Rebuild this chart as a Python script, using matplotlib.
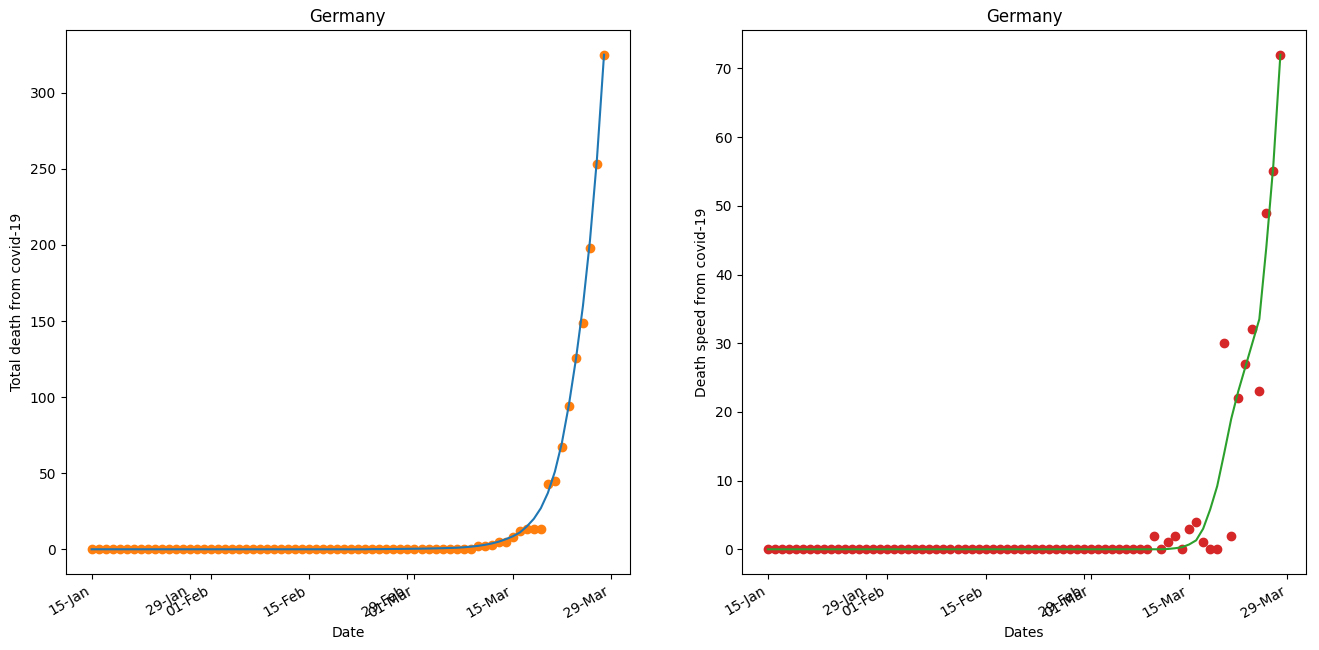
import matplotlib
matplotlib.use("Agg")
import matplotlib.pyplot as plt
import matplotlib.dates as mdates
import numpy as np
import pandas as pd

# ---- data (Germany, from 15-Jan-2020, one value per day) ----
start_date = "2020-01-15"
n_days = 74

total_deaths = [0] * 55 + [2, 2, 3, 5, 5, 8, 12, 13, 13, 13,
                           43, 45, 67, 94, 126, 149, 198, 253, 325]

total_fit = ([0.0] * 40 +
             [0.1, 0.1, 0.15, 0.2, 0.25, 0.3, 0.35, 0.4, 0.5, 0.6,
              0.7, 0.85, 1.0, 1.3, 1.7, 2.2, 2.9, 3.8, 5.0, 6.6,
              8.5, 11, 15, 20, 27, 37, 51, 70, 95, 125,
              160, 203, 257, 325])

daily_deaths = [0] * 55 + [2, 0, 1, 2, 0, 3, 4, 1, 0, 0,
                           30, 2, 22, 27, 32, 23, 49, 55, 72]

daily_fit = ([0.0] * 57 +
             [0.05, 0.15, 0.3, 0.7, 1.3, 3.0, 5.8, 9.2, 14, 19,
              23, 26.5, 30, 33.5, 44, 56, 72])

country = "Germany"

dates = pd.date_range(start_date, periods=n_days)

fig, axes = plt.subplots(1, 2, figsize=(13.19, 6.5), dpi=100)

ax = axes[0]
ax.scatter(dates, total_deaths, color="C1")
ax.plot(dates, total_fit, color="C0")
ax.set_title(country)
ax.set_xlabel("Date")
ax.set_ylabel("Total death from covid-19")

ax = axes[1]
ax.scatter(dates, daily_deaths, color="C3")
ax.plot(dates, daily_fit, color="C2")
ax.set_title(country)
ax.set_xlabel("Dates")
ax.set_ylabel("Death speed from covid-19")

for ax in axes:
    ax.xaxis.set_major_locator(mdates.DayLocator(bymonthday=[1, 15, 29]))
    ax.xaxis.set_major_formatter(mdates.DateFormatter("%d-%b"))

fig.autofmt_xdate()
fig.subplots_adjust(left=66 / 1319, right=1306 / 1319,
                    bottom=(650 - 574) / 650, top=1 - 30 / 650, wspace=0.2)

fig.savefig("out.png", dpi=100)
